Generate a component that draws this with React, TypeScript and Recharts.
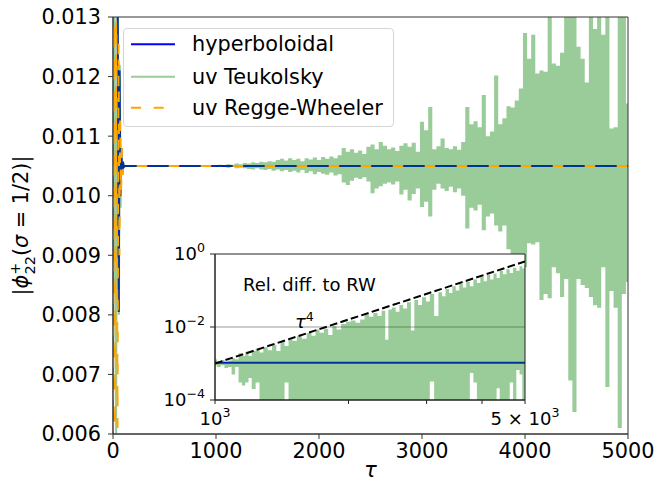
import React from 'react';
import { ComposedChart, Line, Area, XAxis, YAxis, ReferenceLine, ReferenceArea, Legend } from 'recharts';

const FONT = '"DejaVu Sans", "Liberation Sans", sans-serif';

// ---------- main axes ----------
const xTicks = [0, 1000, 2000, 3000, 4000, 5000];
const yTicks = [0.006, 0.007, 0.008, 0.009, 0.01, 0.011, 0.012, 0.013];

// hyperboloidal
const hypTau = [0, 30, 45, 56, 64, 72, 80, 88, 96, 105, 115, 5000];
const hypVal = [0.0145, 0.014, 0.0135, 0.00805, 0.0121, 0.01, 0.0108, 0.01035, 0.01057, 0.01048, 0.0105, 0.0105];

// uv Regge-Wheeler
const rwTau = [0, 10, 20, 32, 44, 54, 62, 70, 78, 86, 94, 102, 112, 5000];
const rwVal = [0.0055, 0.014, 0.0058, 0.0138, 0.0061, 0.0126, 0.009, 0.0113, 0.01, 0.0108, 0.01035, 0.01055, 0.0105, 0.0105];

// uv Teukolsky: early part
const teukEarlyTau = [0, 15, 30, 45, 58, 66, 74, 82, 90, 98, 108, 120, 1000];
const teukEarlyVal = [0.006, 0.014, 0.006, 0.014, 0.008, 0.0122, 0.0098, 0.0108, 0.01035, 0.01057, 0.01048, 0.0105, 0.0105];

// uv Teukolsky: oscillation envelope (upper / lower)
const teukTau = [1000, 1040, 1080, 1120, 1160, 1200, 1240, 1280, 1320, 1360, 1400, 1440, 1480, 1520, 1560, 1600, 1640, 1680, 1720, 1760, 1800, 1840, 1880, 1920, 1960, 2000, 2040, 2080, 2120, 2160, 2200, 2240, 2280, 2320, 2360, 2400, 2440, 2480, 2520, 2560, 2600, 2640, 2680, 2720, 2760, 2800, 2840, 2880, 2920, 2960, 3000, 3040, 3080, 3120, 3160, 3200, 3240, 3280, 3320, 3360, 3400, 3440, 3480, 3520, 3560, 3600, 3640, 3680, 3720, 3760, 3800, 3840, 3880, 3920, 3960, 4000, 4040, 4080, 4120, 4160, 4200, 4240, 4280, 4320, 4360, 4400, 4440, 4480, 4520, 4560, 4600, 4640, 4680, 4720, 4760, 4800, 4840, 4880, 4920, 4960, 5000];
const teukHi = [
  0.01051, 0.01052, 0.01051, 0.01053, 0.01052, 0.01054, 0.01053, 0.01055, 0.01054, 0.01056,
  0.01055, 0.01057, 0.01056, 0.01058, 0.01057, 0.0106, 0.01062, 0.01059, 0.01063, 0.0106,
  0.01062, 0.01058, 0.01063, 0.01061, 0.01064, 0.0106, 0.01065, 0.01062, 0.01066, 0.01063,
  0.01068, 0.0108, 0.01074, 0.01078, 0.01072, 0.01076, 0.0107, 0.01082, 0.01086, 0.01078,
  0.0109, 0.01084, 0.01078, 0.01081, 0.01075, 0.01084, 0.01088, 0.01082, 0.01089, 0.01074,
  0.01124, 0.0111, 0.01149, 0.01078, 0.01083, 0.01096, 0.0108, 0.01078, 0.01083, 0.01077,
  0.0109, 0.01149, 0.0112, 0.01125, 0.01115, 0.01169, 0.011, 0.01108, 0.01202, 0.0112,
  0.0113, 0.0115, 0.01148, 0.0116, 0.0118, 0.01273, 0.0123, 0.0127, 0.01205, 0.0121,
  0.01208, 0.0135, 0.01222, 0.01218, 0.0124, 0.0135, 0.0135, 0.0135, 0.0125, 0.0123,
  0.0119, 0.0135, 0.0128, 0.0135, 0.0127, 0.0135, 0.01113, 0.01115, 0.0135, 0.013,
  0.01155,
];
const teukLo = [
  0.01049, 0.01048, 0.01049, 0.01047, 0.01048, 0.01046, 0.01047, 0.01046, 0.01045, 0.01044,
  0.01046, 0.01044, 0.01043, 0.01045, 0.01042, 0.01044, 0.01041, 0.01043, 0.0104, 0.01042,
  0.01039, 0.01043, 0.01038, 0.01041, 0.01036, 0.0104, 0.01037, 0.01035, 0.01039, 0.01034,
  0.01036, 0.01022, 0.01018, 0.01025, 0.0103, 0.01028, 0.01031, 0.01024, 0.01004, 0.01012,
  0.01016, 0.0102, 0.01022, 0.01019, 0.01024, 0.01002, 0.0101, 0.00992, 0.01003, 0.01012,
  0.00981, 0.0099, 0.00965, 0.0101, 0.0102, 0.01012, 0.01008, 0.01015, 0.01006, 0.01012,
  0.01, 0.00945, 0.0098, 0.00975, 0.00985, 0.00942, 0.00965, 0.0097, 0.0095, 0.0094,
  0.0095, 0.0091, 0.009, 0.0089, 0.00885, 0.0088, 0.0092, 0.00918, 0.00922, 0.00825,
  0.00835, 0.00828, 0.0088, 0.0087, 0.0083, 0.0086, 0.0069, 0.00637, 0.0086, 0.0085,
  0.00845, 0.0083, 0.00816, 0.00812, 0.0088, 0.00679, 0.0084, 0.00812, 0.0061, 0.00835,
  0.00855,
];

// ---------- inset (relative difference to RW) ----------
const insetXTicks = [1000, 2000, 3000, 4000, 5000];
const insetYTicks = [0.0001, 0.01, 1];
const insetTau = [1000, 1020, 1040, 1060, 1080, 1100, 1120, 1140, 1160, 1180, 1200, 1220, 1250, 1270, 1300, 1330, 1360, 1390, 1420, 1450, 1480, 1510, 1550, 1590, 1630, 1670, 1700, 1740, 1780, 1820, 1860, 1900, 1950, 2000, 2050, 2100, 2150, 2200, 2250, 2300, 2350, 2400, 2440, 2480, 2530, 2580, 2630, 2680, 2740, 2790, 2840, 2900, 2960, 3020, 3080, 3160, 3220, 3280, 3340, 3400, 3460, 3520, 3590, 3650, 3720, 3790, 3860, 3930, 4000, 4070, 4140, 4210, 4280, 4350, 4420, 4500, 4580, 4660, 4740, 4820, 4900, 4960, 5000];
const insetHi = [
  1.3e-3, 1.1e-3, 1.25e-3, 1.0e-3, 1.2e-3, 1.4e-3, 1.3e-3, 1.9e-3, 1.6e-3, 2.1e-3,
  1.6e-3, 2.2e-3, 2.5e-3, 2.0e-3, 2.8e-3, 2.3e-3, 3.2e-3, 2.2e-3, 3.8e-3, 3.0e-3,
  4.6e-3, 4.2e-3, 5.6e-3, 4.8e-3, 6.8e-3, 5.8e-3, 8.5e-3, 7.0e-3, 9.0e-3, 6.0e-3,
  1.05e-2, 8.5e-3, 1.2e-2, 1.4e-2, 1.5e-2, 1.3e-2, 1.6e-2, 2.2e-2, 1.9e-2, 2.4e-2,
  2.0e-2, 2.8e-2, 4.5e-3, 3.0e-2, 3.4e-2, 2.6e-2, 4.0e-2, 3.2e-2, 4.8e-2, 8e-3,
  5.5e-2, 4.0e-2, 6.5e-2, 5.0e-2, 8.0e-2, 2.0e-2, 9.0e-2, 7.0e-2, 0.11, 0.085,
  0.13, 0.1, 0.15, 0.12, 0.17, 0.13, 0.2, 0.16, 0.24, 0.18,
  0.27, 0.2, 0.29, 0.22, 0.35, 0.28, 0.38, 0.3, 0.42, 0.35,
  0.46, 0.4, 0.48,
];
const insetLo = [
  9e-4, 8e-4, 9e-4, 7.5e-4, 8e-4, 5e-4, 8e-4, 3e-4, 2.5e-4, 3e-4,
  4e-4, 2e-4, 3e-4, 1e-5, 1e-5, 1e-5, 1e-5, 1e-5, 1e-5, 3e-4,
  1e-5, 1e-5, 1e-5, 1e-5, 1e-5, 1e-5, 1e-5, 1e-5, 1e-5, 1e-5,
  1e-5, 1e-5, 1e-5, 1e-5, 1e-5, 1e-5, 1e-5, 1e-5, 1e-5, 1e-5,
  1e-5, 1e-5, 1e-5, 1e-5, 1e-5, 1e-5, 1e-5, 1e-5, 1e-5, 1e-5,
  1e-5, 1e-5, 1e-5, 1e-5, 3.2e-4, 1e-5, 1e-5, 1e-5, 1e-5, 1e-5,
  1e-5, 1e-5, 1e-5, 1e-5, 1e-5, 5.5e-4, 3e-4, 1e-5, 1e-5, 1e-5,
  1e-5, 1e-5, 1e-5, 2.1e-4, 1e-5, 1e-5, 1e-5, 3e-4, 1e-5, 6.6e-4,
  5e-4, 1e-5, 1e-5,
];
const insetHypTau = [1000, 5000];
const insetHypVal = [1.05e-3, 1.05e-3];
const powTau = [1000, 5000];
const powVal = [1e-3, 0.625];

const legendNames = ['hyperboloidal', 'uv Teukolsky', 'uv Regge-Wheeler'];

// ---------- tables ----------
const hypData = hypTau.map((t, i) => ({ t, v: hypVal[i] }));
const rwData = rwTau.map((t, i) => ({ t, v: rwVal[i] }));
const teukEarlyData = teukEarlyTau.map((t, i) => ({ t, v: teukEarlyVal[i] }));
const teukData = teukTau.map((t, i) => ({ t, range: [teukLo[i], teukHi[i]] }));
const insetData = insetTau.map((t, i) => ({ t, range: [insetLo[i], insetHi[i]] }));
const insetHypData = insetHypTau.map((t, i) => ({ t, v: insetHypVal[i] }));
const powData = powTau.map((t, i) => ({ t, v: powVal[i] }));

const BLUE = '#0000ff';
const GREEN = '#008000';
const ORANGE = '#ffa500';

const renderLegend = () => (
  <div
    style={{
      width: 271,
      height: 99,
      boxSizing: 'border-box',
      border: '1px solid #d5d5d5',
      borderRadius: 4,
      background: 'rgba(255,255,255,0.8)',
    }}
  >
    <svg width={271} height={99} style={{ display: 'block', position: 'absolute', left: 0, top: 0 }}>
      <line x1={8} x2={52} y1={16.3} y2={16.3} stroke={BLUE} strokeWidth={2} />
      <line x1={8} x2={52} y1={48.7} y2={48.7} stroke={GREEN} strokeOpacity={0.4} strokeWidth={2} />
      <line x1={8} x2={52} y1={79.7} y2={79.7} stroke={ORANGE} strokeWidth={2} strokeDasharray="10 12.7" />
      {legendNames.map((n, i) => (
        <text key={n} x={69} y={[16.3, 48.7, 79.7][i] + 7} fontSize={20.8} fontFamily={FONT} fill="#000">
          {n}
        </text>
      ))}
    </svg>
  </div>
);

const insetYTick = (props: any) => {
  const { x, y, payload } = props;
  const exp = payload.value >= 0.5 ? '0' : payload.value >= 0.005 ? '\u22122' : '\u22124';
  return (
    <text x={x} y={y + 6} textAnchor="end" fontSize={18} fontFamily={FONT} fill="#000">
      <tspan>10</tspan>
      <tspan dy={-8} fontSize={12.6}>{exp}</tspan>
    </text>
  );
};

const insetXTick = (props: any) => {
  const { x, y, payload } = props;
  if (payload.value === 1000) {
    return (
      <text x={x} y={y + 15} textAnchor="middle" fontSize={18} fontFamily={FONT} fill="#000">
        <tspan>10</tspan>
        <tspan dy={-8} fontSize={12.6}>3</tspan>
      </text>
    );
  }
  if (payload.value === 5000) {
    return (
      <text x={x} y={y + 15} textAnchor="middle" fontSize={18} fontFamily={FONT} fill="#000">
        <tspan>5 × 10</tspan>
        <tspan dy={-8} fontSize={12.6}>3</tspan>
      </text>
    );
  }
  return <g />;
};

export default function App() {
  return (
    <div style={{ position: 'absolute', left: 0, top: 0, width: 658, height: 487, background: '#fff', fontFamily: FONT }}>
      <ComposedChart width={658} height={487} margin={{ top: 17, right: 30, bottom: 0, left: 0 }}>
        <XAxis
          dataKey="t"
          type="number"
          domain={[0, 5000]}
          ticks={xTicks}
          interval={0}
          allowDataOverflow
          height={53}
          tickSize={5}
          tickMargin={4}
          stroke="#333"
          tick={{ fill: '#000', fontSize: 20.8, fontFamily: FONT }}
        />
        <YAxis
          type="number"
          domain={[0.006, 0.013]}
          ticks={yTicks}
          interval={0}
          allowDataOverflow
          width={113}
          tickSize={5}
          tickMargin={7}
          stroke="#333"
          tickFormatter={(v: number) => v.toFixed(3)}
          tick={{ fill: '#000', fontSize: 20.8, fontFamily: FONT }}
        />
        <Line data={hypData} dataKey="v" stroke={BLUE} strokeWidth={2} dot={false} isAnimationActive={false} legendType="none" zIndex={50} />
        <Line data={teukEarlyData} dataKey="v" stroke={GREEN} strokeOpacity={0.4} strokeWidth={2} dot={false} isAnimationActive={false} legendType="none" zIndex={120} />
        <Area data={teukData} dataKey="range" type="step" stroke="none" fill={GREEN} fillOpacity={0.4} isAnimationActive={false} legendType="none" zIndex={100} />
        <Line data={rwData} dataKey="v" stroke={ORANGE} strokeWidth={2} strokeDasharray="10.5 21.5" dot={false} isAnimationActive={false} legendType="none" zIndex={400} />
        <ReferenceArea x1={0} x2={5000} y1={0.006} y2={0.013} fill="none" stroke="#333" strokeWidth={1} />
        <Legend
          layout="vertical"
          align="center"
          verticalAlign="middle"
          wrapperStyle={{ left: 123, top: 28, width: 271, height: 99 }}
          content={renderLegend}
        />
      </ComposedChart>

      <div style={{ position: 'absolute', left: 215, top: 254, width: 310, height: 146, background: '#fff' }} />

      <div style={{ position: 'absolute', left: 150, top: 240 }}>
        <ComposedChart width={430} height={200} margin={{ top: 14, right: 55, bottom: 0, left: 0 }}>
          <XAxis
            dataKey="t"
            type="number"
            scale="log"
            domain={[1000, 5000]}
            ticks={insetXTicks}
            interval={0}
            allowDataOverflow
            height={40}
            tickSize={4}
            tickMargin={6}
            stroke="#222"
            tick={insetXTick}
          />
          <YAxis
            type="number"
            scale="log"
            domain={[0.0001, 1]}
            ticks={insetYTicks}
            interval={0}
            allowDataOverflow
            width={65}
            tickSize={5}
            tickMargin={5}
            stroke="#222"
            tick={insetYTick}
          />
          <ReferenceLine y={0.01} stroke="#999" strokeWidth={1} zIndex={40} />
          <Line data={insetHypData} dataKey="v" stroke={BLUE} strokeWidth={2} dot={false} isAnimationActive={false} zIndex={50} />
          <Area data={insetData} dataKey="range" type="step" stroke="none" fill={GREEN} fillOpacity={0.4} isAnimationActive={false} zIndex={100} />
          <Line data={powData} dataKey="v" stroke="#000" strokeWidth={2} strokeDasharray="7.7 3.3" dot={false} isAnimationActive={false} zIndex={400} />
          <ReferenceArea x1={1000} x2={5000} y1={0.0001} y2={1} fill="none" stroke="#222" strokeWidth={1} />
        </ComposedChart>
      </div>

      <svg width={658} height={487} style={{ position: 'absolute', left: 0, top: 0, pointerEvents: 'none' }}>
        <text transform="translate(28.4, 225.5) rotate(-90)" textAnchor="middle" fontSize={20.8} fontFamily={FONT} fill="#000">
          <tspan>|</tspan>
          <tspan fontStyle="italic">ϕ</tspan>
          <tspan fontSize={14.5} dy={-8}>+</tspan>
          <tspan fontSize={14.5} dx={-12} dy={15}>22</tspan>
          <tspan dy={-7}>(</tspan>
          <tspan fontStyle="italic">σ</tspan>
          <tspan> = 1/2)|</tspan>
        </text>
        <text x={370.5} y={477} textAnchor="middle" fontSize={20.8} fontStyle="italic" fontFamily={FONT} fill="#000">
          τ
        </text>
        <text x={243} y={291} fontSize={18} fontFamily={FONT} fill="#000">
          Rel. diff. to RW
        </text>
        <text x={295} y={328} fontSize={18} fontFamily={FONT} fill="#000">
          <tspan fontStyle="italic">τ</tspan>
          <tspan fontSize={12.6} dy={-7}>4</tspan>
        </text>
      </svg>
    </div>
  );
}
